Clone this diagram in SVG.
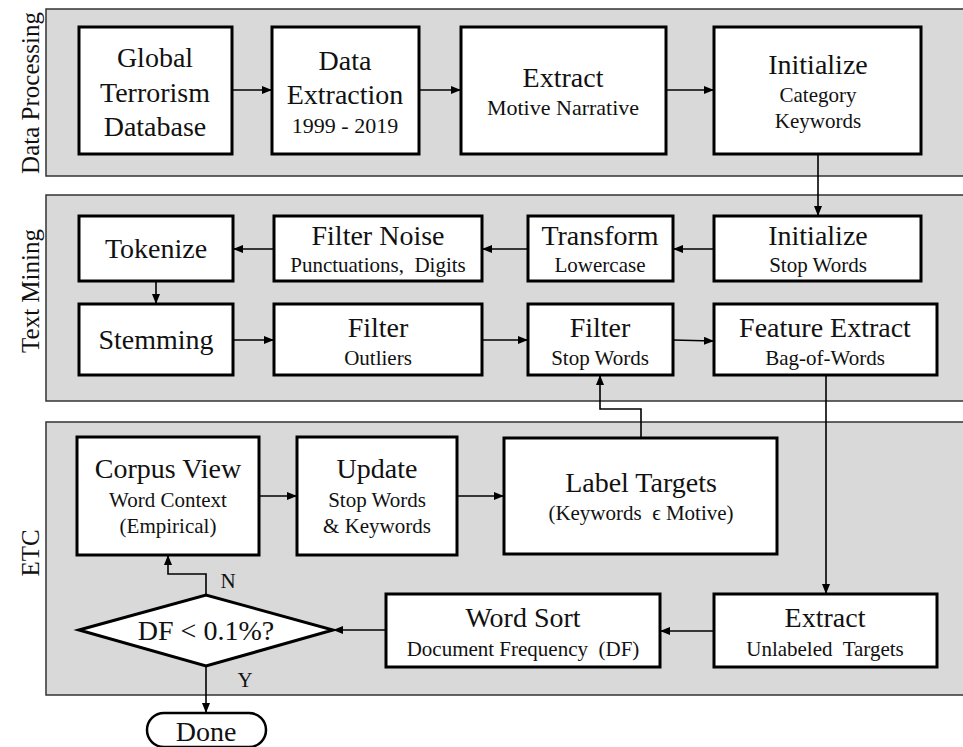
<svg xmlns="http://www.w3.org/2000/svg" width="963" height="747" viewBox="0 0 963 747">
<defs>
<style>
.panel{fill:#d9d9d9;stroke:#333;stroke-width:1.5}
.box{fill:#fff;stroke:#000;stroke-width:3}
.t{font-family:"Liberation Serif","Times New Roman",serif;fill:#111;text-anchor:middle}
.m{font-size:28px}
.s{font-size:21px}
.side{font-size:25px}
.c{fill:none;stroke:#000;stroke-width:1.6}
</style>
<marker id="ah" markerWidth="10" markerHeight="8" refX="9" refY="4" orient="auto" markerUnits="userSpaceOnUse">
<path d="M0,0 L10,4 L0,8 Z" fill="#000"/>
</marker>
</defs>
<rect width="963" height="747" fill="#fff"/>

<g id="panels">
<rect class="panel" x="46" y="9" width="930" height="167"/>
<rect class="panel" x="46" y="195" width="930" height="206"/>
<rect class="panel" x="46" y="422" width="930" height="273"/>
<text class="t side" transform="translate(39,93) rotate(-90)">Data Processing</text>
<text class="t side" transform="translate(39,291) rotate(-90)">Text Mining</text>
<text class="t side" transform="translate(39,553) rotate(-90)">ETC</text>
</g>

<g id="connectors">
<line class="c" x1="232" y1="90" x2="271" y2="90" marker-end="url(#ah)"/>
<line class="c" x1="419" y1="90" x2="460" y2="90" marker-end="url(#ah)"/>
<line class="c" x1="666" y1="90" x2="713" y2="90" marker-end="url(#ah)"/>
<line class="c" x1="818" y1="154" x2="818" y2="215" marker-end="url(#ah)"/>
<line class="c" x1="714" y1="249" x2="674" y2="249" marker-end="url(#ah)"/>
<line class="c" x1="528" y1="249" x2="483" y2="249" marker-end="url(#ah)"/>
<line class="c" x1="274" y1="249" x2="234" y2="249" marker-end="url(#ah)"/>
<line class="c" x1="156" y1="281" x2="156" y2="303" marker-end="url(#ah)"/>
<line class="c" x1="233" y1="340" x2="273" y2="340" marker-end="url(#ah)"/>
<line class="c" x1="482" y1="340" x2="527" y2="340" marker-end="url(#ah)"/>
<line class="c" x1="673" y1="340" x2="713" y2="341" marker-end="url(#ah)"/>
<path class="c" d="M641,438 V409 H600 V376" marker-end="url(#ah)"/>
<line class="c" x1="826" y1="375" x2="826" y2="593" marker-end="url(#ah)"/>
<line class="c" x1="714" y1="631" x2="661" y2="631" marker-end="url(#ah)"/>
<line class="c" x1="386" y1="630" x2="334" y2="630" marker-end="url(#ah)"/>
<path class="c" d="M206,595 V574 H168 V556" marker-end="url(#ah)"/>
<line class="c" x1="206" y1="666" x2="206" y2="712" marker-end="url(#ah)"/>
<line class="c" x1="259" y1="496" x2="296" y2="496" marker-end="url(#ah)"/>
<line class="c" x1="457" y1="496" x2="503" y2="496" marker-end="url(#ah)"/>
<text class="t" x="228" y="588" font-size="21">N</text>
<text class="t" x="245" y="687" font-size="21">Y</text>
</g>

<g id="n-gtd">
<rect class="box" x="79" y="27" width="153" height="127"/>
<text class="t m" x="155" y="67">Global</text>
<text class="t m" x="155" y="102">Terrorism</text>
<text class="t m" x="155" y="136">Database</text>
</g>
<g id="n-dataext">
<rect class="box" x="272" y="27" width="147" height="127"/>
<text class="t m" x="345" y="70">Data</text>
<text class="t m" x="345" y="104">Extraction</text>
<text class="t" x="345" y="133" font-size="22">1999 - 2019</text>
</g>
<g id="n-extractmotive">
<rect class="box" x="461" y="27" width="205" height="127"/>
<text class="t m" x="563" y="87">Extract</text>
<text class="t" x="563" y="115" font-size="22">Motive Narrative</text>
</g>
<g id="n-initcat">
<rect class="box" x="714" y="27" width="207" height="127"/>
<text class="t m" x="818" y="74">Initialize</text>
<text class="t s" x="818" y="102">Category</text>
<text class="t s" x="818" y="128">Keywords</text>
</g>

<g id="n-tokenize">
<rect class="box" x="79" y="216" width="154" height="65"/>
<text class="t m" x="156" y="258">Tokenize</text>
</g>
<g id="n-filternoise">
<rect class="box" x="274" y="216" width="208" height="65"/>
<text class="t m" x="378" y="245">Filter Noise</text>
<text class="t s" x="378" y="272" xml:space="preserve">Punctuations,  Digits</text>
</g>
<g id="n-transform">
<rect class="box" x="528" y="216" width="145" height="65"/>
<text class="t m" x="600" y="245">Transform</text>
<text class="t s" x="600" y="272">Lowercase</text>
</g>
<g id="n-initstop">
<rect class="box" x="714" y="216" width="207" height="65"/>
<text class="t m" x="818" y="245">Initialize</text>
<text class="t s" x="818" y="272">Stop Words</text>
</g>
<g id="n-stemming">
<rect class="box" x="79" y="304" width="154" height="71"/>
<text class="t m" x="156" y="349">Stemming</text>
</g>
<g id="n-filteroutliers">
<rect class="box" x="274" y="304" width="208" height="71"/>
<text class="t m" x="378" y="337">Filter</text>
<text class="t s" x="378" y="365">Outliers</text>
</g>
<g id="n-filterstop">
<rect class="box" x="528" y="304" width="145" height="71"/>
<text class="t m" x="600" y="337">Filter</text>
<text class="t s" x="600" y="365">Stop Words</text>
</g>
<g id="n-feature">
<rect class="box" x="714" y="304" width="223" height="71"/>
<text class="t m" x="825" y="337">Feature Extract</text>
<text class="t s" x="825" y="365">Bag-of-Words</text>
</g>

<g id="n-corpus">
<rect class="box" x="77" y="437" width="182" height="118"/>
<text class="t m" x="168" y="478">Corpus View</text>
<text class="t s" x="168" y="507">Word Context</text>
<text class="t s" x="168" y="533">(Empirical)</text>
</g>
<g id="n-update">
<rect class="box" x="297" y="437" width="160" height="118"/>
<text class="t m" x="377" y="478">Update</text>
<text class="t s" x="377" y="507">Stop Words</text>
<text class="t s" x="377" y="533">&amp; Keywords</text>
</g>
<g id="n-label">
<rect class="box" x="504" y="438" width="273" height="116"/>
<text class="t m" x="641" y="492">Label Targets</text>
<text class="t s" x="641" y="520" xml:space="preserve">(Keywords  ϵ Motive)</text>
</g>
<g id="n-decision">
<polygon class="box" points="79,630 206,595 333,630 206,666"/>
<text class="t m" x="206" y="640">DF &lt; 0.1%?</text>
</g>
<g id="n-wordsort">
<rect class="box" x="386" y="594" width="274" height="73"/>
<text class="t m" x="523" y="627">Word Sort</text>
<text class="t s" x="523" y="656" xml:space="preserve">Document Frequency  (DF)</text>
</g>
<g id="n-extractunl">
<rect class="box" x="714" y="594" width="223" height="73"/>
<text class="t m" x="825" y="627">Extract</text>
<text class="t s" x="825" y="656" xml:space="preserve">Unlabeled  Targets</text>
</g>
<g id="n-done">
<rect x="147" y="713" width="119" height="34" rx="17" ry="17" fill="#fff" stroke="#000" stroke-width="2.5"/>
<text class="t m" x="206" y="741">Done</text>
</g>
</svg>
